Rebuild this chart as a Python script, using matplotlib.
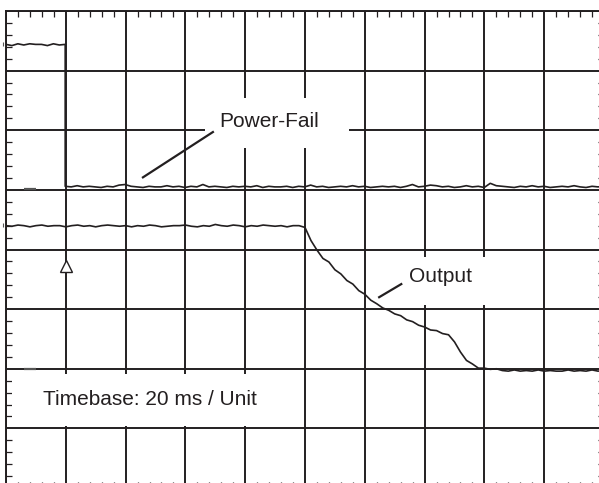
import numpy as np
import matplotlib
matplotlib.use("Agg")
import matplotlib.pyplot as plt
from matplotlib.patches import Rectangle
from matplotlib.ticker import MultipleLocator

plt.rcParams['font.family'] = ['Liberation Sans', 'DejaVu Sans']

# scope screen: 10 x 8 divisions, 20 ms per division
# Power-Fail trace: high level before the drop, then low level
pf_high = [7.44, 7.42, 7.45, 7.43, 7.45, 7.44, 7.44, 7.42, 7.45, 7.43, 7.44]
pf_low = [5.06, 5.05, 5.07, 5.05, 5.06, 5.05, 5.04, 5.06, 5.05, 5.08,
          5.09, 5.06, 5.05, 5.04, 5.06, 5.05, 5.05, 5.07, 5.05, 5.06,
          5.04, 5.06, 5.05, 5.09, 5.05, 5.06, 5.05, 5.04, 5.06, 5.05,
          5.06, 5.05, 5.07, 5.04, 5.06, 5.05, 5.05, 5.06, 5.04, 5.06,
          5.05, 5.08, 5.05, 5.06, 5.04, 5.05, 5.06, 5.05, 5.07, 5.05,
          5.06, 5.04, 5.05, 5.06, 5.05, 5.06, 5.04, 5.06, 5.09, 5.05,
          5.06, 5.08, 5.07, 5.05, 5.06, 5.04, 5.05, 5.07, 5.05, 5.06,
          5.04, 5.11, 5.07, 5.06, 5.05, 5.04, 5.06, 5.05, 5.07, 5.05,
          5.06, 5.04, 5.05, 5.06, 5.05, 5.07, 5.05, 5.04, 5.06, 5.05, 5.06]
pf_drop = 0.99

# Output trace, one sample every 0.1 division
output = [4.40, 4.39, 4.41, 4.40, 4.38, 4.40, 4.41, 4.39, 4.40, 4.40,
          4.38, 4.40, 4.41, 4.39, 4.40, 4.38, 4.40, 4.41, 4.40, 4.39,
          4.40, 4.38, 4.40, 4.39, 4.41, 4.40, 4.38, 4.39, 4.40, 4.40,
          4.41, 4.39, 4.38, 4.40, 4.39, 4.42, 4.40, 4.39, 4.41, 4.40,
          4.38, 4.40, 4.39, 4.41, 4.40, 4.39, 4.40, 4.38, 4.40, 4.40,
          4.37, 4.15, 3.99, 3.85, 3.79, 3.66, 3.59, 3.48, 3.42, 3.31,
          3.25, 3.15, 3.09, 3.02, 2.98, 2.92, 2.89, 2.82, 2.79, 2.73,
          2.70, 2.65, 2.64, 2.59, 2.57, 2.45, 2.28, 2.14, 2.08, 2.01,
          2.01, 1.99, 2.00, 1.97, 1.96, 1.98, 1.96, 1.97, 1.96, 1.98,
          1.96, 1.97, 1.96, 1.96, 1.98, 1.96, 1.97, 1.96, 1.98, 1.96, 1.97]

trigger = (1.0, 3.72)
ground_levels = [5.01, 2.0]
trace_markers = [7.45, 4.41]

ink = '#231f20'

fig = plt.figure(figsize=(5.99, 4.83), dpi=100)
ax = fig.add_axes([6 / 599, -5 / 483, 598 / 599, 477 / 483])
ax.set_xlim(0, 10)
ax.set_ylim(0, 8)

ax.xaxis.set_major_locator(MultipleLocator(1))
ax.yaxis.set_major_locator(MultipleLocator(1))
ax.xaxis.set_minor_locator(MultipleLocator(0.2))
ax.yaxis.set_minor_locator(MultipleLocator(0.2))
ax.tick_params(which='both', direction='in', top=True, right=True,
               labelbottom=False, labelleft=False, color=ink)
ax.tick_params(which='minor', length=4, width=0.9)
ax.tick_params(which='major', length=0)
ax.grid(True, which='major', color=ink, lw=1.4)
ax.set_axisbelow(True)
for s in ax.spines.values():
    s.set_color(ink)
    s.set_linewidth(1.4)

# white label boxes hide the grid behind the text
for (x0, y0, w, h) in [(3.33, 5.70, 2.41, 0.84), (6.42, 3.07, 1.76, 0.80),
                       (0.10, 1.04, 4.78, 0.87)]:
    ax.add_patch(Rectangle((x0, y0), w, h, facecolor='white',
                           edgecolor='none', zorder=2))

t_high = np.linspace(0, pf_drop, len(pf_high))
t_low = np.linspace(pf_drop, 10, len(pf_low))
ax.plot(np.r_[t_high, t_low], pf_high + pf_low, color=ink, lw=1.2, zorder=3)

t_out = np.linspace(0, 10, len(output))
ax.plot(t_out, output, color=ink, lw=1.2, zorder=3)

ax.plot(*trigger, marker='^', ms=8, mfc='white', mec=ink, mew=1.0, zorder=4)

for g in ground_levels:
    ax.plot([0.3, 0.5], [g, g], color='#555555', lw=1.6, zorder=3,
            solid_capstyle='butt')
for m in trace_markers:
    ax.plot([-0.05], [m], marker='|', ms=3, mew=0.8, color='#555555',
            clip_on=False)

# leader lines
ax.plot([2.29, 3.46], [5.21, 5.97], color=ink, lw=1.6, zorder=4)
ax.plot([6.24, 6.61], [3.20, 3.42], color=ink, lw=1.6, zorder=4)

ax.text(4.40, 6.14, 'Power-Fail', fontsize=15, color=ink,
        ha='center', va='center', zorder=5)
ax.text(7.26, 3.54, 'Output', fontsize=15, color=ink,
        ha='center', va='center', zorder=5)
ax.text(2.41, 1.48, 'Timebase: 20 ms / Unit', fontsize=15, color=ink,
        ha='center', va='center', zorder=5)

fig.savefig('out.png', dpi=100)
